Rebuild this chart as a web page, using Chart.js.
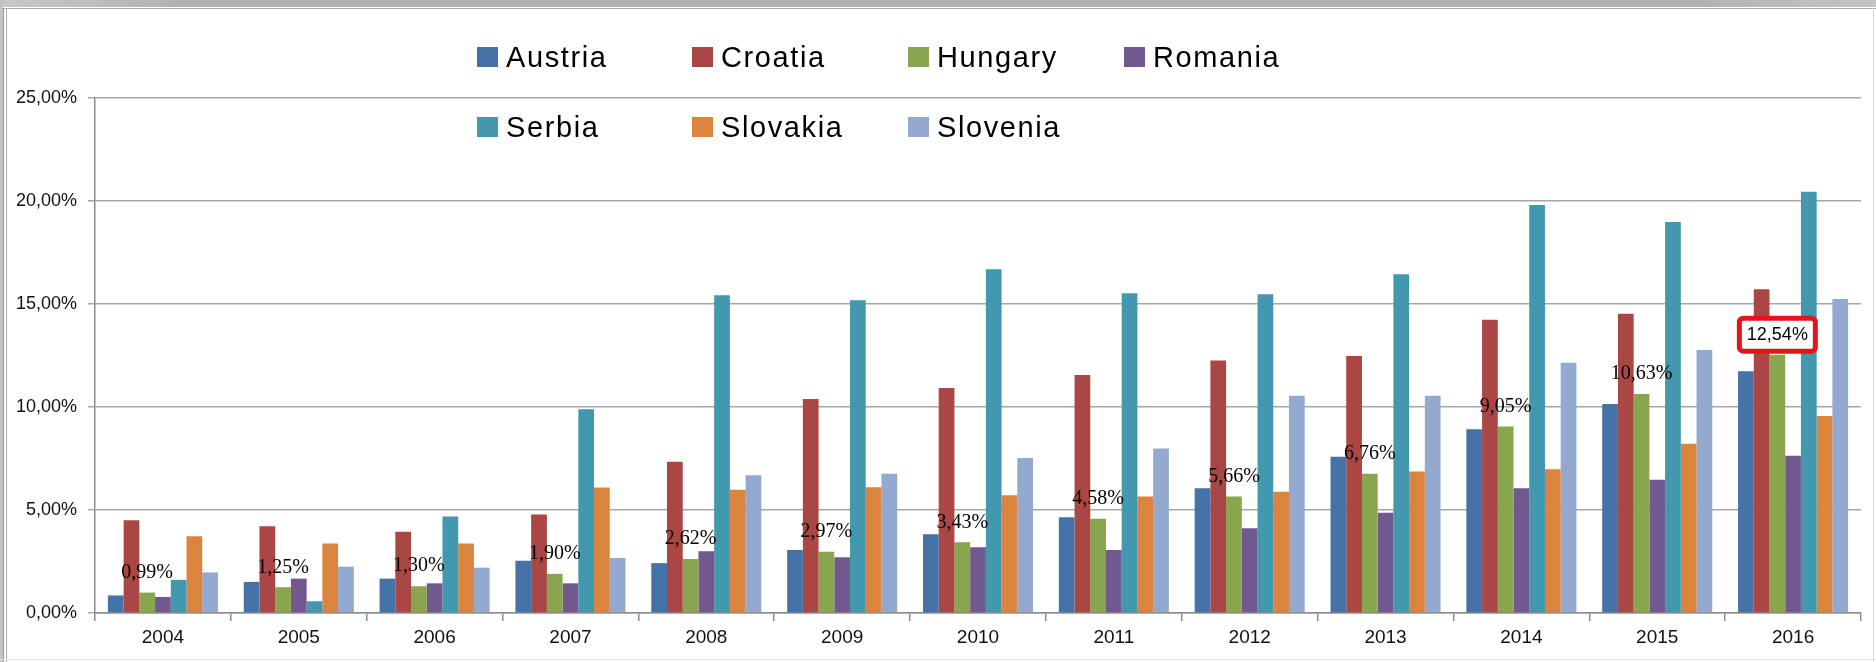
<!DOCTYPE html>
<html>
<head>
<meta charset="utf-8">
<script src="https://cdn.jsdelivr.net/npm/chart.js@4.4.1/dist/chart.umd.min.js"></script>
<style>
  html, body { margin: 0; padding: 0; background: #fff; }
  body { width: 1876px; height: 662px; position: relative; overflow: hidden; }
  #chart { position: absolute; left: 0; top: 0; }
  .frame { position: absolute; pointer-events: none; }
  .legend-item { position: absolute; font-family: "Liberation Sans", Arial, sans-serif; font-size: 29px; letter-spacing: 1.6px; color: #000; line-height: 29px; white-space: nowrap; }
  .legend-box { position: absolute; width: 21px; height: 20px; }
</style>
</head>
<body>
<canvas id="chart" width="1876" height="662"></canvas>
<div class="frame" style="left:0;top:0;width:1876px;height:7px;background:linear-gradient(to right,#c8c8c8,#b2b2b2 10%,#b2b2b2 90%,#c4c4c4);"></div>
<div class="frame" style="left:0;top:8px;width:1876px;height:1px;background:#a9a9a9;"></div>
<div class="frame" style="left:0;top:0;width:3px;height:662px;background:#c4c4c4;"></div>
<div class="frame" style="left:3px;top:8px;width:1px;height:654px;background:#9a9a9a;"></div>
<div class="frame" style="left:6px;top:8px;width:1px;height:654px;background:#b0b0b0;"></div>
<div class="frame" style="left:0;top:659px;width:1876px;height:1px;background:#e2e2e2;"></div>
<div class="frame" style="left:1873px;top:8px;width:1px;height:654px;background:#dcdcdc;"></div>
<div id="legend"></div>
<script>
// years on the x axis
const years = ['2004', '2005', '2006', '2007', '2008', '2009', '2010', '2011', '2012', '2013', '2014', '2015', '2016'];

// values in percent
const austria  = [0.85, 1.51, 1.67, 2.54, 2.42, 3.06, 3.82, 4.65, 6.05, 7.58, 8.92, 10.15, 11.74];
const croatia  = [4.50, 4.21, 3.95, 4.78, 7.34, 10.39, 10.92, 11.55, 12.26, 12.48, 14.24, 14.53, 15.71];
const hungary  = [0.99, 1.25, 1.30, 1.90, 2.62, 2.97, 3.43, 4.58, 5.66, 6.76, 9.05, 10.63, 12.54];
const romania  = [0.78, 1.67, 1.44, 1.44, 3.00, 2.71, 3.19, 3.06, 4.11, 4.87, 6.05, 6.47, 7.63];
const serbia   = [1.61, 0.57, 4.68, 9.89, 15.42, 15.18, 16.69, 15.52, 15.47, 16.45, 19.81, 18.98, 20.45];
const slovakia = [3.73, 3.37, 3.37, 6.09, 5.98, 6.11, 5.71, 5.65, 5.89, 6.87, 6.98, 8.21, 9.56];
const slovenia = [1.97, 2.25, 2.20, 2.67, 6.69, 6.76, 7.52, 7.98, 10.55, 10.55, 12.15, 12.77, 15.24];

const yTicks = [0, 5, 10, 15, 20, 25];

const countries = ['Austria', 'Croatia', 'Hungary', 'Romania', 'Serbia', 'Slovakia', 'Slovenia'];
const series = [austria, croatia, hungary, romania, serbia, slovakia, slovenia];
const colors = ['#4572A7', '#AA4643', '#89A54E', '#71588F', '#4198AF', '#DB843D', '#93A9CF'];

const fmt = v => v.toFixed(2).replace('.', ',') + '%';

// html legend, 4 items on the first row, 3 on the second
const legendEl = document.getElementById('legend');
const colX = [477, 692, 908, 1124];
const rowY = [47, 117];
countries.forEach((name, i) => {
  const row = i < 4 ? 0 : 1;
  const col = i < 4 ? i : i - 4;
  const box = document.createElement('div');
  box.className = 'legend-box';
  box.style.left = colX[col] + 'px';
  box.style.top = rowY[row] + 'px';
  box.style.background = colors[i];
  legendEl.appendChild(box);
  const txt = document.createElement('div');
  txt.className = 'legend-item';
  txt.style.left = (colX[col] + 29) + 'px';
  txt.style.top = (rowY[row] - 4) + 'px';
  txt.textContent = name;
  legendEl.appendChild(txt);
});

// value labels over the Hungary bars, the last one boxed in red
const hungaryLabels = {
  id: 'hungaryLabels',
  afterDatasetsDraw(chart) {
    const ctx = chart.ctx;
    const meta = chart.getDatasetMeta(2);
    ctx.save();
    ctx.textAlign = 'center';
    ctx.textBaseline = 'middle';
    ctx.fillStyle = '#000';
    meta.data.forEach((bar, i) => {
      const txt = fmt(hungary[i]);
      const y = bar.y - 20;
      if (i === hungary.length - 1) {
        const w = 76, h = 33;
        ctx.beginPath();
        ctx.roundRect(bar.x - w / 2, y - h / 2, w, h, 4);
        ctx.fillStyle = '#fff';
        ctx.fill();
        ctx.lineWidth = 5;
        ctx.strokeStyle = '#e5141a';
        ctx.stroke();
        ctx.fillStyle = '#000';
        ctx.font = '18px "Liberation Sans", Arial, sans-serif';
      } else {
        ctx.font = '20px "Liberation Serif", "Times New Roman", serif';
      }
      ctx.fillText(txt, bar.x, y);
    });
    ctx.restore();
  }
};

const ctx = document.getElementById('chart').getContext('2d');
const chart = new Chart(ctx, {
  type: 'bar',
  data: {
    labels: years,
    datasets: countries.map((name, i) => ({
      label: name,
      data: series[i],
      backgroundColor: colors[i],
      borderWidth: 0,
      categoryPercentage: 0.81,
      barPercentage: 1.0
    }))
  },
  options: {
    responsive: false,
    animation: false,
    layout: { padding: { left: 0, right: 15, top: 98, bottom: 0 } },
    plugins: {
      legend: { display: false },
      tooltip: { enabled: false }
    },
    scales: {
      x: {
        afterFit: s => { s.height = 49; },
        grid: { drawOnChartArea: false, offset: true, tickLength: 8, color: '#8c8c8c', lineWidth: 1.5 },
        border: { color: '#8c8c8c', width: 1.5 },
        ticks: { color: '#111', padding: 5, font: { family: '"Liberation Sans", Arial, sans-serif', size: 19 } }
      },
      y: {
        min: 0,
        max: 25,
        afterFit: s => { s.width = 95; },
        afterBuildTicks: s => { s.ticks = yTicks.map(v => ({ value: v })); },
        grid: { color: '#a6a6a6', lineWidth: 1.5, tickLength: 7 },
        border: { color: '#8c8c8c', width: 1.5 },
        ticks: {
          color: '#111',
          padding: 11,
          font: { family: '"Liberation Sans", Arial, sans-serif', size: 18 },
          callback: v => fmt(v)
        }
      }
    }
  },
  plugins: [hungaryLabels]
});
</script>
</body>
</html>
